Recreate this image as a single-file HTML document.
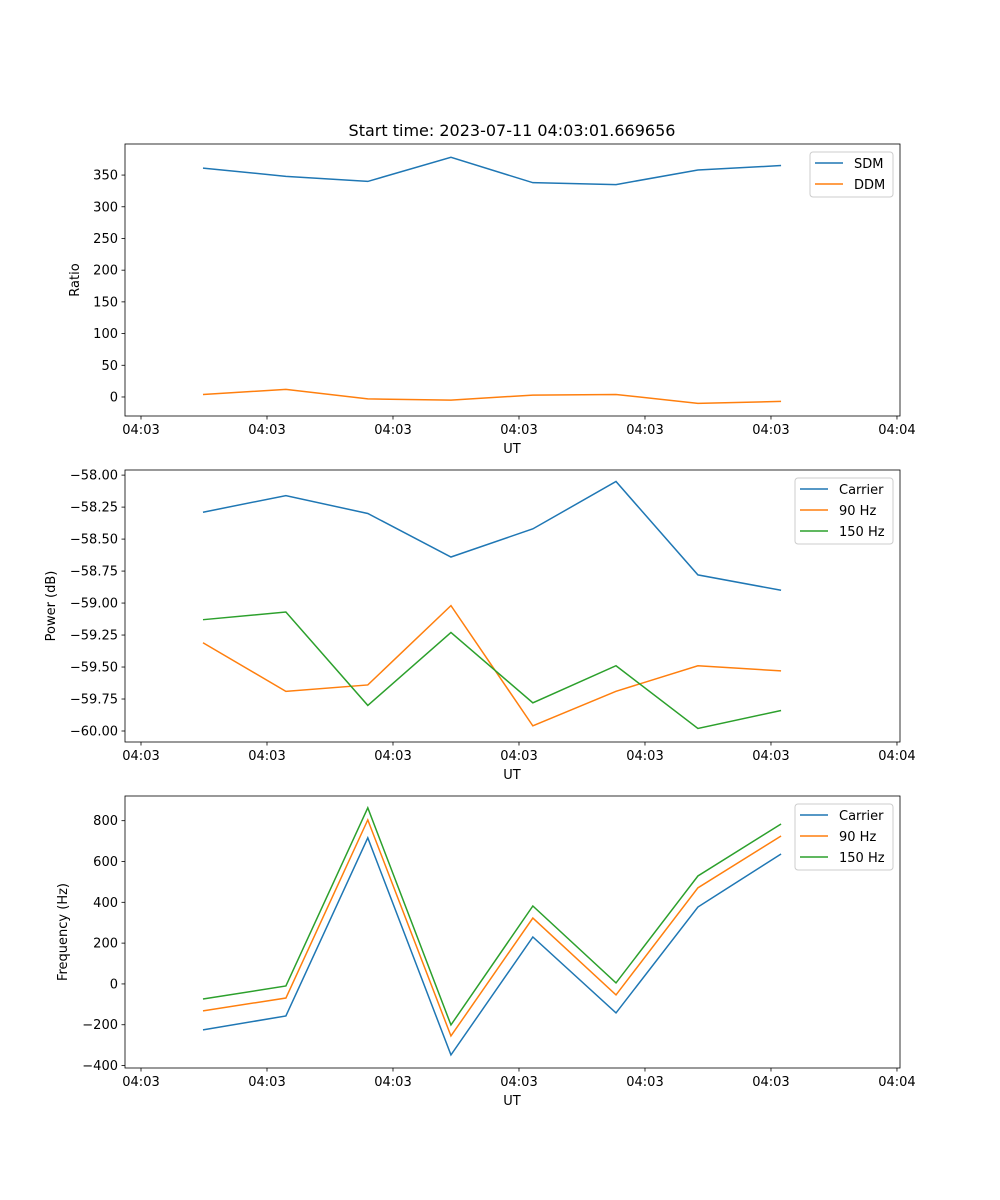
<!DOCTYPE html>
<html><head><meta charset="utf-8"><style>
body{margin:0;background:#fff}
svg{display:block;font-family:"DejaVu Sans","Liberation Sans",sans-serif}
</style></head><body>
<svg id="fig" width="1000" height="1200" xmlns="http://www.w3.org/2000/svg">
<rect width="1000" height="1200" fill="#fff"/>
<text x="512" y="136" font-size="16" text-anchor="middle">Start time: 2023-07-11 04:03:01.669656</text>
</svg>
<script>
// time offsets in seconds from 04:03:00
const times = [4.92, 11.5, 18.0, 24.6, 31.1, 37.7, 44.2, 50.8];
const xTickVals = [0, 10, 20, 30, 40, 50, 60];
const xTickLabels = ["04:03","04:03","04:03","04:03","04:03","04:03","04:04"];
const sdm = [361, 348, 340, 378, 338, 335, 358, 365];
const ddm = [4, 12, -3, -5, 3, 4, -10, -7];
const powCarrier = [-58.29, -58.16, -58.30, -58.64, -58.42, -58.05, -58.78, -58.90];
const pow90 = [-59.31, -59.69, -59.64, -59.02, -59.96, -59.69, -59.49, -59.53];
const pow150 = [-59.13, -59.07, -59.80, -59.23, -59.78, -59.49, -59.98, -59.84];
const freqCarrier = [-225, -157, 716, -348, 230, -142, 377, 637];
const freq90 = [-132, -69, 804, -255, 323, -54, 471, 725];
const freq150 = [-74, -10, 863, -201, 382, 5, 529, 784];
const ratioTicks = [0, 50, 100, 150, 200, 250, 300, 350];
const powTicks = [-60, -59.75, -59.5, -59.25, -59, -58.75, -58.5, -58.25, -58];
const freqTicks = [-400, -200, 0, 200, 400, 600, 800];

const NS="http://www.w3.org/2000/svg";
const svg=document.getElementById('fig');
function el(tag,attrs,parent){const e=document.createElementNS(NS,tag);for(const k in attrs)e.setAttribute(k,attrs[k]);(parent||svg).appendChild(e);return e;}
const L=125,R=900,XMIN=-1.27,XMAX=60.24;
const xs=t=>L+(t-XMIN)/(XMAX-XMIN)*(R-L);
const C=["#1f77b4","#ff7f0e","#2ca02c"];

function panel(name,top,bottom,ymin,ymax,yticks,fmt,ylabel,ylabX,series,legend){
  const g=el('g',{});
  
  
  const ys=v=>bottom-(v-ymin)/(ymax-ymin)*(bottom-top);
  series.forEach((s,i)=>{
    const p=el('polyline',{points:s.vals.map((v,j)=>xs(times[j])+','+ys(v)).join(' '),fill:'none',stroke:C[i],'stroke-width':1.5},g);
    
    
  });
  el('rect',{x:L,y:top,width:R-L,height:bottom-top,fill:'none',stroke:'#000','stroke-width':0.8},g);
  xTickVals.forEach((t,i)=>{
    const x=xs(t);
    el('line',{x1:x,x2:x,y1:bottom,y2:bottom+3.5,stroke:'#000','stroke-width':0.8},g);
    const tx=el('text',{x:x,y:bottom+18,'font-size':13,'text-anchor':'middle'},g);
    tx.textContent=xTickLabels[i];
    
    
  });
  yticks.forEach(v=>{
    const y=ys(v);
    el('line',{x1:L-3.5,x2:L,y1:y,y2:y,stroke:'#000','stroke-width':0.8},g);
    const tx=el('text',{x:L-7,y:y+4.5,'font-size':13,'text-anchor':'end'},g);
    tx.textContent=fmt(v);
    
    
  });
  const xl=el('text',{x:512,y:bottom+37,'font-size':13,'text-anchor':'middle'},g);
  xl.textContent='UT';
  
  
  const cy=(top+bottom)/2;
  const yl=el('text',{x:ylabX,y:cy,'font-size':13,'text-anchor':'middle',transform:`rotate(-90 ${ylabX} ${cy})`},g);
  yl.textContent=ylabel;
  
  
  const lg=el('g',{},g);
  
  
  el('rect',{x:legend.x,y:top+8,width:893-legend.x,height:series.length*21+3,rx:3,fill:'#fff',stroke:'#ccc','stroke-width':1},lg);
  series.forEach((s,i)=>{
    const y=top+19+i*21;
    el('line',{x1:legend.x+5,x2:legend.x+33,y1:y,y2:y,stroke:C[i],'stroke-width':1.5},lg);
    const t=el('text',{x:legend.x+44,y:y+5,'font-size':13},lg);
    t.textContent=s.label;
    
    
  });
}
panel('ratio',144,416,-30,399,ratioTicks,v=>String(v),'Ratio',79,
  [{key:'sdm',label:'SDM',vals:sdm},{key:'ddm',label:'DDM',vals:ddm}],{x:810});
panel('power',470,742,-60.086,-57.96,powTicks,v=>'\u2212'+Math.abs(v).toFixed(2),'Power (dB)',55,
  [{key:'carrier',label:'Carrier',vals:powCarrier},{key:'90hz',label:'90 Hz',vals:pow90},{key:'150hz',label:'150 Hz',vals:pow150}],{x:795});
panel('frequency',796,1068,-412,921,freqTicks,v=>v<0?'\u2212'+Math.abs(v):String(v),'Frequency (Hz)',67,
  [{key:'carrier',label:'Carrier',vals:freqCarrier},{key:'90hz',label:'90 Hz',vals:freq90},{key:'150hz',label:'150 Hz',vals:freq150}],{x:795});
</script>
</body></html>
